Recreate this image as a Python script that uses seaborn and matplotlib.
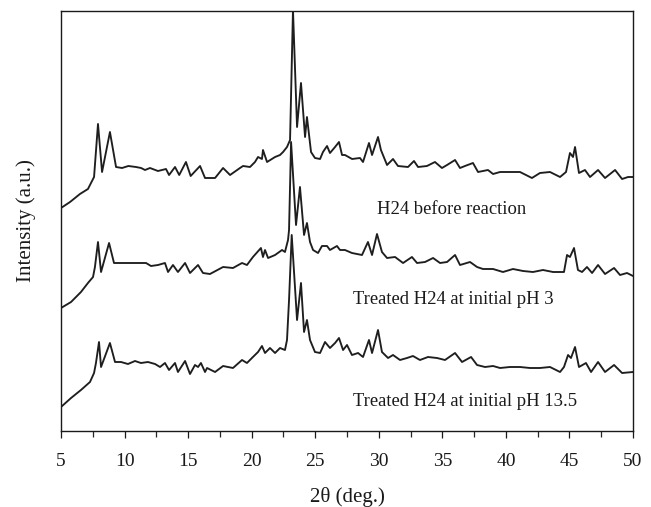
import matplotlib
matplotlib.use("Agg")
import matplotlib.pyplot as plt
import seaborn as sns
import pandas as pd
from matplotlib.ticker import MultipleLocator

sns.set_theme(style="white")
plt.rcParams['font.family'] = ['Liberation Serif', 'DejaVu Serif']

# Series 1: H24 before reaction (2theta, pixel-height intensity, a.u.)
theta_before = [5.0, 5.71, 6.49, 7.12, 7.6, 7.91, 8.23, 8.85, 9.33, 9.8, 10.3, 10.9, 11.3, 11.61,
                12.0, 12.63, 13.26, 13.5, 13.97, 14.3, 14.83, 15.2, 15.94, 16.33, 16.7, 17.12,
                17.75, 18.3, 19.08, 19.32, 19.87, 20.26, 20.5, 20.81, 20.89, 21.21, 21.84, 22.23,
                22.47, 22.78, 23.02, 23.25, 23.57, 23.88, 24.2, 24.35, 24.67, 24.98, 25.38, 25.61,
                25.93, 26.16, 26.56, 26.87, 27.11, 27.34, 27.9, 28.52, 28.76, 29.23, 29.47, 29.94,
                30.17, 30.65, 31.12, 31.51, 32.3, 32.77, 33.09, 33.79, 34.42, 34.97, 35.37, 36.0,
                36.39, 36.78, 37.41, 37.81, 38.59, 38.99, 39.54, 40.32, 41.11, 42.05, 42.68, 43.47,
                44.26, 44.73, 45.04, 45.28, 45.44, 45.75, 46.22, 46.62, 47.25, 47.8, 48.59, 49.14,
                49.61, 50.0]
py_before = [208, 202, 194, 189, 177, 124, 172, 132, 167, 168, 166, 167, 168, 170,
             168, 171, 169, 175, 167, 175, 162, 176, 166, 178, 178, 178,
             168, 175, 168, 166, 167, 162, 157, 159, 150, 162, 157, 155,
             152, 147, 140, 10, 127, 83, 137, 117, 152, 158, 159, 152,
             146, 153, 147, 142, 155, 155, 159, 158, 162, 143, 155, 137,
             150, 165, 159, 166, 167, 161, 167, 166, 162, 168, 165, 160,
             168, 166, 163, 172, 170, 174, 172, 172, 172, 178, 173, 172,
             177, 172, 153, 157, 147, 173, 170, 177, 170, 178, 170, 179,
             177, 177]

# Series 2: Treated H24 at initial pH 3
theta_ph3 = [5.0, 5.79, 6.57, 7.12, 7.52, 7.67, 7.91, 8.15, 8.78, 9.17, 9.64, 10.82, 11.69, 12.08,
             12.63, 13.18, 13.42, 13.81, 14.2, 14.76, 15.15, 15.78, 16.17, 16.72, 17.75, 18.53,
             19.24, 19.63, 20.1, 20.73, 20.89, 21.05, 21.29, 21.84, 22.39, 22.62, 22.86, 22.94,
             23.1, 23.49, 23.8, 24.12, 24.35, 24.59, 24.83, 25.22, 25.53, 25.93, 26.16, 26.71,
             26.95, 27.34, 27.89, 28.68, 29.15, 29.47, 29.86, 30.25, 30.65, 31.28, 31.91, 32.61,
             33.01, 33.64, 34.27, 34.82, 35.37, 36.0, 36.39, 37.18, 37.73, 38.2, 38.99, 39.77,
             40.56, 41.35, 42.13, 42.92, 43.71, 44.57, 44.81, 45.04, 45.36, 45.67, 45.99, 46.38,
             46.78, 47.25, 47.8, 48.51, 48.98, 49.53, 50.0]
py_ph3 = [308, 302, 292, 283, 277, 267, 242, 272, 243, 263, 263, 263, 263, 266,
          265, 263, 272, 265, 272, 263, 273, 265, 273, 274, 267, 268,
          263, 265, 257, 248, 257, 250, 258, 255, 250, 252, 240, 230,
          142, 225, 187, 235, 223, 242, 250, 253, 246, 246, 250, 246,
          250, 250, 253, 255, 242, 255, 234, 252, 258, 257, 263, 257,
          263, 262, 258, 263, 262, 255, 265, 262, 267, 269, 269, 272,
          269, 271, 272, 270, 272, 272, 255, 257, 248, 270, 272, 267,
          273, 265, 274, 268, 275, 273, 276]

# Series 3: Treated H24 at initial pH 13.5
theta_ph135 = [5.0, 5.79, 6.57, 7.28, 7.6, 7.75, 7.99, 8.15, 8.85, 9.25, 9.72, 10.27, 10.82, 11.29,
               11.84, 12.4, 12.79, 13.18, 13.5, 13.97, 14.2, 14.76, 15.15, 15.54, 15.78, 16.01,
               16.33, 16.49, 17.12, 17.75, 18.53, 19.24, 19.63, 20.1, 20.5, 20.81, 21.05, 21.44,
               21.84, 22.23, 22.62, 22.78, 22.94, 23.15, 23.57, 23.88, 24.12, 24.35, 24.59, 24.98,
               25.38, 25.77, 26.16, 26.56, 26.87, 27.19, 27.5, 27.89, 28.37, 28.76, 29.23, 29.47,
               29.94, 30.25, 30.73, 31.12, 31.67, 32.22, 32.69, 33.24, 33.87, 34.58, 35.21, 36.0,
               36.55, 37.26, 37.73, 38.36, 38.99, 39.54, 40.32, 41.11, 41.9, 42.68, 43.47, 44.26,
               44.57, 44.89, 45.12, 45.44, 45.75, 46.3, 46.7, 47.25, 47.8, 48.51, 49.14, 50.0]
py_ph135 = [407, 398, 390, 382, 373, 363, 342, 367, 343, 362, 362, 364, 361, 363,
            362, 364, 367, 363, 370, 363, 372, 361, 374, 365, 367, 363,
            372, 368, 372, 366, 368, 360, 363, 357, 352, 346, 353, 348,
            353, 348, 350, 340, 300, 235, 320, 283, 332, 320, 340, 352,
            353, 342, 348, 343, 338, 350, 345, 355, 353, 357, 340, 353,
            330, 352, 358, 355, 360, 358, 356, 360, 357, 358, 360, 353,
            362, 357, 365, 367, 366, 368, 367, 367, 368, 368, 367, 372,
            367, 355, 358, 347, 367, 363, 372, 362, 372, 365, 373, 372]

labels = ["H24 before reaction", "Treated H24 at initial pH 3", "Treated H24 at initial pH 13.5"]
label_theta = [29.85, 27.95, 27.95]
label_int = [221, 132, 30]

BASE = 431
frames = []
for name, th, py in [(labels[0], theta_before, py_before),
                     (labels[1], theta_ph3, py_ph3),
                     (labels[2], theta_ph135, py_ph135)]:
    frames.append(pd.DataFrame({"theta": th, "intensity": [BASE - v for v in py], "sample": name}))
df = pd.concat(frames, ignore_index=True)

fig = plt.figure(figsize=(6.51, 5.07), dpi=100)
ax = fig.add_axes([61/651, 1 - 431/507, (633 - 61)/651, (431 - 11)/507])

sns.lineplot(data=df, x="theta", y="intensity", units="sample", estimator=None, sort=False,
             color="#1e1e1e", linewidth=1.35, ax=ax, legend=False)

for t, xt, yt in zip(labels, label_theta, label_int):
    ax.text(xt, yt, t, fontsize=13.4, ha="left", va="center", color="#1a1a1a")

ax.set_xlim(5, 50)
ax.set_ylim(0, 420)
ax.xaxis.set_major_locator(MultipleLocator(5))
ax.xaxis.set_minor_locator(MultipleLocator(2.5))
ax.set_yticks([])
ax.tick_params(axis="x", which="major", direction="out", length=5, width=0.9, bottom=True,
               labelsize=14, colors="#1a1a1a", pad=11)
ax.tick_params(axis="x", which="minor", direction="out", length=4, width=0.9, bottom=True)
for s in ax.spines.values():
    s.set_color("#1a1a1a")
    s.set_linewidth(1.0)
ax.set_xlabel("2θ (deg.)", fontsize=15, color="#1a1a1a", labelpad=12)
ax.set_ylabel("Intensity (a.u.)", fontsize=15, color="#1a1a1a", labelpad=18)

fig.savefig("out.png", dpi=100)
